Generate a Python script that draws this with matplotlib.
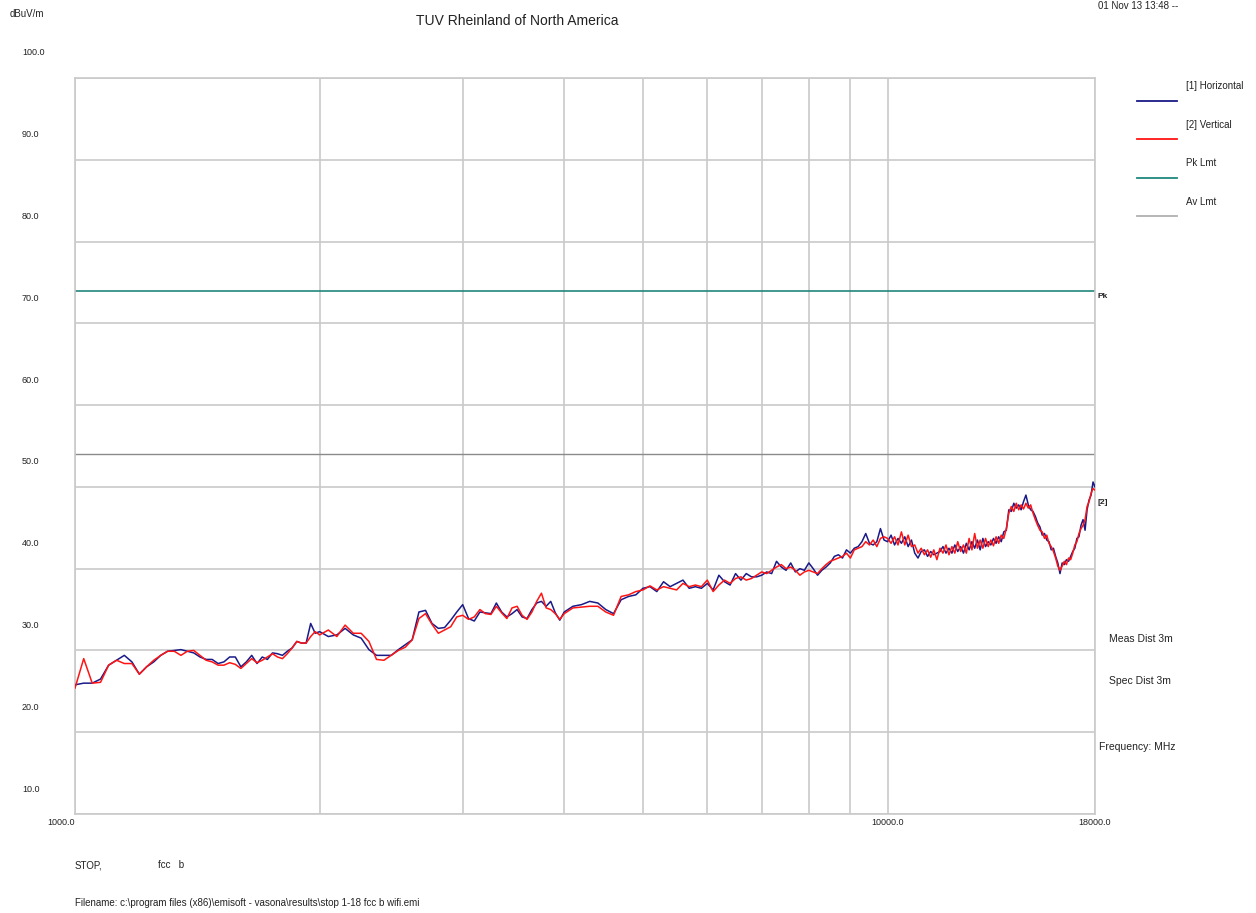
import numpy as np
import matplotlib
matplotlib.use('Agg')
import matplotlib.pyplot as plt
from matplotlib.lines import Line2D
from matplotlib.transforms import ScaledTranslation

plt.rcParams['font.family'] = ['Liberation Sans', 'DejaVu Sans']

W, H = 1256, 913

# sweep grid (MHz)
freq_mhz = np.concatenate([np.arange(1000, 2000, 25),
                           np.arange(2000, 4000, 50),
                           np.arange(4000, 18001, 100)])

# [1] Horizontal, dBuV/m
horiz_1to2 = [25.8, 26.0, 26.0, 26.5, 28.2, 28.8, 29.4, 28.6, 27.1, 28.0,
              28.6, 29.4, 29.9, 30.0, 30.1, 29.9, 29.7, 29.2, 28.9, 28.9,
              28.4, 28.6, 29.2, 29.2, 28.0, 28.6, 29.4, 28.4, 29.2, 28.9,
              29.7, 29.6, 29.4, 29.9, 30.3, 31.1, 30.9, 30.9, 33.3, 32.1]
horiz_2to4 = [32.3, 31.7, 31.9, 32.7, 31.9, 31.5, 30.1, 29.4, 29.4, 29.4,
              30.1, 30.7, 31.3, 34.7, 34.9, 33.3, 32.7, 32.8, 33.7, 34.7,
              35.6, 33.9, 33.6, 34.7, 34.6, 34.5, 35.8, 34.7, 34.1, 34.5,
              35.0, 34.1, 33.9, 35.0, 35.8, 36.0, 35.4, 36.0, 34.6, 33.7]
horiz_4to10 = [34.7, 35.4, 35.6, 36.0, 35.8, 35.0, 34.5, 36.2, 36.6, 36.8,
               37.6, 37.8, 37.2, 38.4, 37.8, 38.2, 38.6, 37.6, 37.8, 37.6,
               38.2, 37.4, 39.2, 38.4, 38.0, 39.4, 38.6, 39.4, 39.0, 39.0,
               39.2, 39.6, 39.4, 40.9, 40.2, 39.8, 40.7, 39.6, 40.0, 39.8,
               40.7, 40.0, 39.2, 39.8, 40.2, 40.7, 41.5, 41.7, 41.3, 42.3,
               41.9, 42.5, 42.7, 43.3, 44.3, 43.1, 42.9, 43.3, 44.9, 43.5]
horiz_10to18 = [43.3, 44.1, 42.9, 43.7, 43.1, 43.9, 42.7, 43.5, 41.9, 41.3,
                42.1, 42.3, 41.5, 42.1, 41.7, 41.9, 42.1, 42.7, 41.9, 42.5,
                41.9, 42.9, 42.1, 42.7, 41.9, 43.1, 42.3, 43.3, 42.5, 43.5,
                42.3, 43.7, 42.7, 43.3, 42.9, 43.7, 43.1, 43.9, 43.3, 44.5,
                44.7, 47.2, 47.0, 48.0, 47.4, 47.8, 47.2, 48.2, 49.0, 47.8,
                47.2, 47.0, 46.4, 45.6, 45.1, 44.1, 44.3, 43.5, 43.3, 42.3,
                42.5, 41.5, 40.7, 39.4, 40.7, 40.5, 41.1, 40.9, 41.5, 42.1,
                42.5, 43.7, 43.9, 45.3, 46.0, 44.7, 47.2, 48.4, 49.0, 50.6,
                50.0]

# [2] Vertical, dBuV/m
vert_1to2 = [25.4, 29.0, 26.0, 26.1, 28.2, 28.8, 28.4, 28.4, 27.1, 28.0,
             28.8, 29.4, 29.9, 29.9, 29.4, 29.9, 30.0, 29.4, 28.8, 28.6,
             28.2, 28.2, 28.5, 28.3, 27.8, 28.4, 29.0, 28.5, 28.8, 29.2,
             29.6, 29.2, 29.0, 29.6, 30.3, 31.1, 30.9, 30.9, 31.7, 32.3]
vert_2to4 = [31.9, 32.5, 31.7, 33.1, 32.1, 32.1, 31.1, 28.9, 28.8, 29.4,
             30.0, 30.4, 31.3, 33.9, 34.5, 33.2, 32.1, 32.5, 32.9, 34.1,
             34.3, 33.8, 34.1, 35.0, 34.5, 34.4, 35.4, 34.6, 33.9, 35.2,
             35.4, 34.3, 33.8, 34.7, 36.0, 37.0, 35.2, 35.0, 34.5, 33.8]
vert_4to10 = [34.5, 35.2, 35.3, 35.4, 35.4, 34.7, 34.3, 36.6, 36.8, 37.2,
              37.4, 37.9, 37.4, 37.8, 37.6, 37.4, 38.2, 37.8, 38.0, 37.8,
              38.6, 37.2, 38.0, 38.6, 38.2, 38.8, 39.0, 38.6, 38.8, 39.2,
              39.6, 39.4, 39.8, 40.2, 40.5, 40.0, 40.2, 39.8, 39.2, 39.6,
              39.8, 39.6, 39.4, 40.0, 40.5, 40.9, 41.1, 41.3, 41.5, 41.9,
              41.3, 42.3, 42.5, 42.7, 43.3, 42.9, 43.5, 42.7, 43.7, 43.9]
vert_10to18 = [43.7, 43.1, 43.9, 42.9, 44.5, 42.9, 44.1, 42.7, 42.9, 41.9,
               42.5, 41.7, 42.3, 41.4, 42.3, 41.1, 42.5, 41.9, 42.9, 41.7,
               42.7, 41.9, 43.3, 42.1, 42.9, 41.9, 43.7, 42.3, 44.3, 42.5,
               43.5, 42.5, 43.7, 42.7, 43.5, 42.8, 43.9, 43.1, 44.1, 43.7,
               44.9, 46.8, 47.6, 47.0, 48.0, 47.2, 47.8, 47.3, 48.0, 47.4,
               47.8, 46.8, 46.0, 45.3, 44.7, 44.5, 43.7, 44.1, 43.1, 42.7,
               42.1, 41.3, 40.3, 39.8, 40.3, 40.9, 40.5, 41.3, 41.1, 41.9,
               42.9, 43.3, 44.3, 44.9, 45.3, 46.0, 47.6, 48.2, 49.2, 49.8,
               49.6]

pk_limit = 74.0
av_limit = 54.0

y_ticks = [10, 20, 30, 40, 50, 60, 70, 80, 90, 100]
x_label_ticks = [1000, 10000, 18000]
x_grid_ticks = [2000, 3000, 4000, 5000, 6000, 7000, 8000, 9000]

horiz = horiz_1to2 + horiz_2to4 + horiz_4to10 + horiz_10to18
vert = vert_1to2 + vert_2to4 + vert_4to10 + vert_10to18

BLUE = '#1a1a88'
RED = '#ff1414'
TEAL = '#20877d'
GRID = '#cacaca'
TXT = '#222222'


def fx(px):
    return px / W


def fy(py):
    return 1 - py / H


fig = plt.figure(figsize=(W / 100, H / 100), dpi=100)
ax = fig.add_axes([fx(75), fy(814), 1020 / W, 736 / H])
ax.set_xscale('log')
ax.set_xlim(1000, 18000)
ax.set_ylim(10, 100)

ax.plot(freq_mhz, horiz, color=BLUE, lw=1.1, zorder=3)
ax.plot(freq_mhz, vert, color=RED, lw=1.1, zorder=4)
ax.axhline(pk_limit, color=TEAL, lw=1.2, zorder=2)
ax.axhline(av_limit, color='#8a8a8a', lw=1.0, zorder=2)

ax.set_xticks(x_label_ticks, labels=[f'{v:.1f}' for v in x_label_ticks])
ax.set_xticks(x_grid_ticks, minor=True)
ax.xaxis.set_minor_formatter(plt.NullFormatter())
ax.set_yticks(y_ticks, labels=[])
ax.tick_params(which='both', length=0)
ax.tick_params(axis='x', labelsize=6.5, pad=3, labelcolor=TXT)
ax.grid(True, which='both', axis='x', color=GRID, lw=1.2, zorder=0)
ax.grid(True, which='major', axis='y', color=GRID, lw=1.2, zorder=0)
for s in ax.spines.values():
    s.set_color(GRID)
    s.set_linewidth(1.2)

# first frequency label sits left of the axis corner
first = ax.get_xticklabels()[0]
first.set_transform(first.get_transform()
                    + ScaledTranslation(-14 / 100, 0, fig.dpi_scale_trans))

# y labels sit above their grid lines in the original printout
shift = ScaledTranslation(0, 25 / 100, fig.dpi_scale_trans)
for v in y_ticks:
    ax.text(-0.052, v, f'{v:.1f}', transform=ax.get_yaxis_transform() + shift,
            fontsize=6.5, color=TXT, ha='left', va='center')

ax.text(1.002, pk_limit, 'Pk', transform=ax.get_yaxis_transform()
        + ScaledTranslation(0, -6 / 100, fig.dpi_scale_trans),
        fontsize=6, fontweight='bold', color=TXT, ha='left', va='center')
ax.text(1.002, vert[-1], '[2]', transform=ax.get_yaxis_transform()
        + ScaledTranslation(0, -12 / 100, fig.dpi_scale_trans),
        fontsize=6, fontweight='bold', color=TXT, ha='left', va='center')

fig.text(fx(517), fy(21), 'TUV Rheinland of North America', fontsize=10,
         color=TXT, ha='center', va='center')
fig.text(fx(10), fy(14), 'dBuV/m', fontsize=7, color=TXT, ha='left', va='center')
fig.text(fx(1098), fy(1), '01 Nov 13 13:48 --', fontsize=7, color=TXT,
         ha='left', va='top')

legend_items = [('[1] Horizontal', BLUE), ('[2] Vertical', RED),
                ('Pk Lmt', TEAL), ('Av Lmt', '#b0b0b0')]
for i, (name, col) in enumerate(legend_items):
    ty = 86 + 38.5 * i
    fig.text(fx(1186), fy(ty), name, fontsize=7, color=TXT, ha='left', va='center')
    fig.add_artist(Line2D([fx(1137), fx(1177)], [fy(ty + 15), fy(ty + 15)],
                          color=col, lw=1.3))

fig.text(fx(1109), fy(639), 'Meas Dist 3m', fontsize=7.5, color=TXT, ha='left', va='center')
fig.text(fx(1109), fy(681), 'Spec Dist 3m', fontsize=7.5, color=TXT, ha='left', va='center')
fig.text(fx(1099), fy(747), 'Frequency: MHz', fontsize=7.5, color=TXT, ha='left', va='center')

fig.text(fx(75), fy(865), 'STOP,', fontsize=7, color=TXT, ha='left', va='center')
fig.text(fx(158), fy(865), 'fcc   b', fontsize=7, color=TXT, ha='left', va='center')
fig.text(fx(75), fy(903),
         'Filename: c:\\program files (x86)\\emisoft - vasona\\results\\stop 1-18 fcc b wifi.emi',
         fontsize=7, color=TXT, ha='left', va='center')

fig.savefig('out.png', dpi=100)
